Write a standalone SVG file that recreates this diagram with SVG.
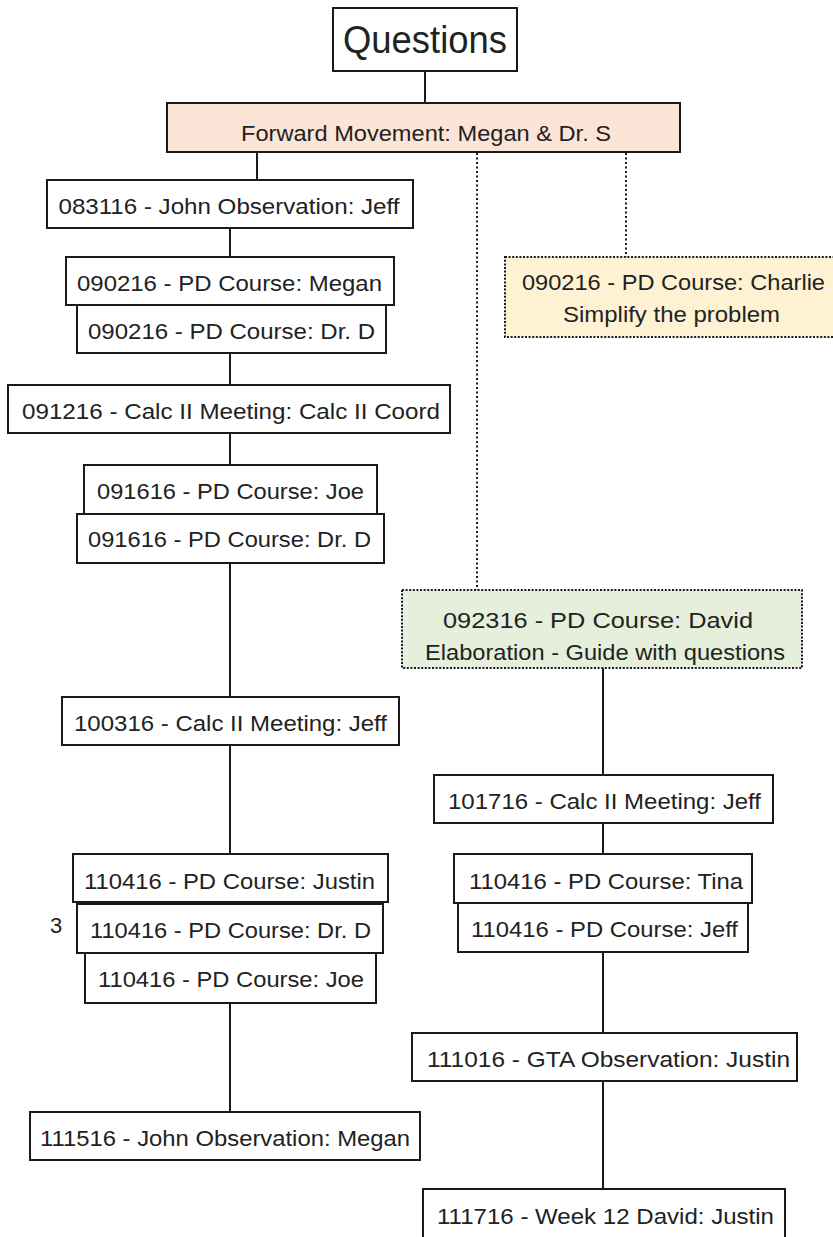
<svg xmlns="http://www.w3.org/2000/svg" width="833" height="1237" viewBox="0 0 833 1237">
  <style>
    .box { fill: #ffffff; stroke: #1a1a1a; stroke-width: 2; }
    .peach { fill: #fce4d6; stroke: #1a1a1a; stroke-width: 2; }
    .note { stroke: #1a1a1a; stroke-width: 2; stroke-dasharray: 2 1.6; }
    .yellow { fill: #fef2d2; }
    .green { fill: #e6efdc; }
    .lbl { font-family: "Liberation Sans", Arial, sans-serif; font-size: 22px; fill: #222222; text-anchor: middle; }
    .big { font-size: 39px; }
    .wire { stroke: #1a1a1a; stroke-width: 2; fill: none; }
    .dot { stroke: #1a1a1a; stroke-width: 2; fill: none; stroke-dasharray: 2 2.5; }
  </style>

  <!-- connectors -->
  <g id="connectors">
    <line class="wire" x1="425" y1="71" x2="425" y2="103"/>
    <line class="wire" x1="257" y1="152" x2="257" y2="180"/>
    <line class="wire" x1="230" y1="228" x2="230" y2="257"/>
    <line class="wire" x1="230" y1="353" x2="230" y2="385"/>
    <line class="wire" x1="230" y1="433" x2="230" y2="465"/>
    <line class="wire" x1="230" y1="563" x2="230" y2="697"/>
    <line class="wire" x1="230" y1="745" x2="230" y2="854"/>
    <line class="wire" x1="230" y1="1003" x2="230" y2="1112"/>
    <line class="dot" x1="477" y1="153" x2="477" y2="590"/>
    <line class="dot" x1="626" y1="153" x2="626" y2="257"/>
    <line class="wire" x1="603" y1="668" x2="603" y2="775"/>
    <line class="wire" x1="603" y1="823" x2="603" y2="854"/>
    <line class="wire" x1="603" y1="952" x2="603" y2="1033"/>
    <line class="wire" x1="603" y1="1081" x2="603" y2="1189"/>
  </g>

  <g id="questions">
    <rect class="box" x="333" y="8" width="184" height="63"/>
    <text class="lbl big" x="425" y="53" textLength="164" lengthAdjust="spacingAndGlyphs">Questions</text>
  </g>

  <g id="forward-movement">
    <rect class="peach" x="167" y="103" width="513" height="49"/>
    <text class="lbl" x="426" y="141" textLength="370" lengthAdjust="spacingAndGlyphs">Forward Movement: Megan &amp; Dr. S</text>
  </g>

  <g id="n083116">
    <rect class="box" x="47" y="180" width="366" height="48"/>
    <text class="lbl" x="229" y="214" textLength="341" lengthAdjust="spacingAndGlyphs">083116 - John Observation: Jeff</text>
  </g>

  <g id="n090216-megan">
    <rect class="box" x="66" y="257" width="328" height="48"/>
    <text class="lbl" x="229.5" y="291" textLength="305" lengthAdjust="spacingAndGlyphs">090216 - PD Course: Megan</text>
  </g>

  <g id="n090216-drd">
    <rect class="box" x="77" y="305" width="309" height="48"/>
    <text class="lbl" x="231.5" y="339" textLength="287" lengthAdjust="spacingAndGlyphs">090216 - PD Course: Dr. D</text>
  </g>

  <g id="n091216">
    <rect class="box" x="8" y="385" width="442" height="48"/>
    <text class="lbl" x="231" y="419" textLength="418" lengthAdjust="spacingAndGlyphs">091216 - Calc II Meeting: Calc II Coord</text>
  </g>

  <g id="n091616-joe">
    <rect class="box" x="84" y="465" width="293" height="49"/>
    <text class="lbl" x="230.5" y="499" textLength="267" lengthAdjust="spacingAndGlyphs">091616 - PD Course: Joe</text>
  </g>

  <g id="n091616-drd">
    <rect class="box" x="77" y="514" width="307" height="49"/>
    <text class="lbl" x="229.5" y="547" textLength="283" lengthAdjust="spacingAndGlyphs">091616 - PD Course: Dr. D</text>
  </g>

  <g id="n100316">
    <rect class="box" x="62" y="697" width="337" height="48"/>
    <text class="lbl" x="230.5" y="731" textLength="313" lengthAdjust="spacingAndGlyphs">100316 - Calc II Meeting: Jeff</text>
  </g>

  <g id="n110416-justin">
    <rect class="box" x="73" y="854" width="315" height="48"/>
    <text class="lbl" x="229.5" y="889" textLength="291" lengthAdjust="spacingAndGlyphs">110416 - PD Course: Justin</text>
  </g>

  <g id="n110416-drd">
    <rect class="box" x="77" y="904" width="306" height="49"/>
    <text class="lbl" x="230.5" y="938" textLength="281" lengthAdjust="spacingAndGlyphs">110416 - PD Course: Dr. D</text>
  </g>

  <g id="n110416-joe">
    <rect class="box" x="85" y="953" width="291" height="50"/>
    <text class="lbl" x="231" y="987" textLength="266" lengthAdjust="spacingAndGlyphs">110416 - PD Course: Joe</text>
  </g>

  <g id="count-3">
    <text class="lbl" x="56" y="933">3</text>
  </g>

  <g id="n111516">
    <rect class="box" x="30" y="1112" width="390" height="48"/>
    <text class="lbl" x="225" y="1146" textLength="370" lengthAdjust="spacingAndGlyphs">111516 - John Observation: Megan</text>
  </g>

  <g id="n090216-charlie">
    <rect class="note yellow" x="505" y="257" width="340" height="80"/>
    <text class="lbl" x="673.5" y="290" textLength="303" lengthAdjust="spacingAndGlyphs">090216 - PD Course: Charlie</text>
    <text class="lbl" x="671.5" y="322" textLength="217" lengthAdjust="spacingAndGlyphs">Simplify the problem</text>
  </g>

  <g id="n092316-david">
    <rect class="note green" x="402" y="590" width="400" height="78"/>
    <text class="lbl" x="598" y="628" textLength="310" lengthAdjust="spacingAndGlyphs">092316 - PD Course: David</text>
    <text class="lbl" x="605" y="660" textLength="360" lengthAdjust="spacingAndGlyphs">Elaboration - Guide with questions</text>
  </g>

  <g id="n101716">
    <rect class="box" x="434" y="775" width="339" height="48"/>
    <text class="lbl" x="604.5" y="809" textLength="313" lengthAdjust="spacingAndGlyphs">101716 - Calc II Meeting: Jeff</text>
  </g>

  <g id="n110416-tina">
    <rect class="box" x="454" y="854" width="298" height="49"/>
    <text class="lbl" x="606" y="889" textLength="274" lengthAdjust="spacingAndGlyphs">110416 - PD Course: Tina</text>
  </g>

  <g id="n110416-jeff">
    <rect class="box" x="458" y="903" width="290" height="49"/>
    <text class="lbl" x="604.5" y="937" textLength="267" lengthAdjust="spacingAndGlyphs">110416 - PD Course: Jeff</text>
  </g>

  <g id="n111016">
    <rect class="box" x="412" y="1033" width="385" height="48"/>
    <text class="lbl" x="608.5" y="1067" textLength="363" lengthAdjust="spacingAndGlyphs">111016 - GTA Observation: Justin</text>
  </g>

  <g id="n111716">
    <rect class="box" x="423" y="1189" width="362" height="60"/>
    <text class="lbl" x="605.5" y="1224" textLength="337" lengthAdjust="spacingAndGlyphs">111716 - Week 12 David: Justin</text>
  </g>
</svg>
